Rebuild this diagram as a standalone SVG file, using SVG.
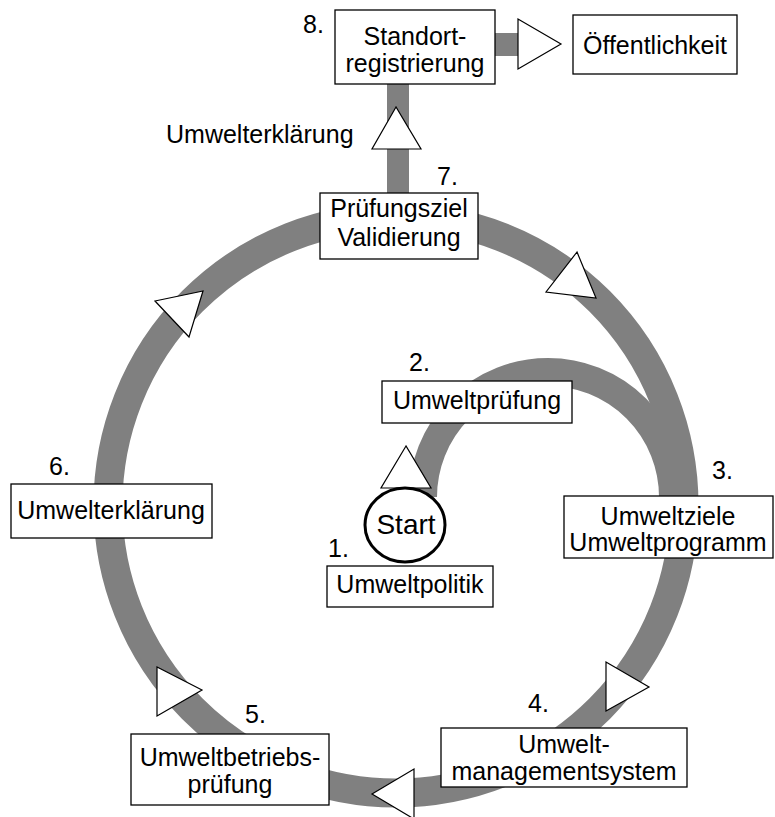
<svg xmlns="http://www.w3.org/2000/svg" width="775" height="817" viewBox="0 0 775 817">
<style>
  .band { fill: none; stroke: #808080; }
  .bar { fill: #808080; stroke: none; }
  .arrow { fill: #ffffff; stroke: #000000; stroke-width: 1.2; stroke-linejoin: miter; }
  .box { fill: #ffffff; stroke: #000000; stroke-width: 1.3; }
  text { font-family: "Liberation Sans", Arial, sans-serif; font-size: 25px; fill: #000000; }
  .c { text-anchor: middle; }
</style>
<rect width="775" height="817" fill="#ffffff"/>
<g id="connectors">
  <circle class="band" cx="396" cy="505" r="288" stroke-width="29"/>
  <path class="band" d="M 423 497 A 125 125 0 0 1 673 497" stroke-width="28"/>
  <rect class="bar" x="387" y="84" width="22" height="110"/>
  <rect class="bar" x="495" y="33" width="24" height="23"/>
  <polygon class="arrow" points="406,446 381,488 431,488"/>
  <polygon class="arrow" points="396,107 372,149 421,149"/>
  <polygon class="arrow" points="518,19 518,69 561,44"/>
  <polygon class="arrow" points="577,252 546,292 596,298"/>
  <polygon class="arrow" points="606,662 606,711 649,687"/>
  <polygon class="arrow" points="414,769 414,819 372,794"/>
  <polygon class="arrow" points="157,667 157,716 202,690"/>
  <polygon class="arrow" points="155,301 203,291 189,337"/>
  <text x="166" y="143">Umwelterklärung</text>
</g>
<g id="start">
  <ellipse cx="405" cy="525" rx="40" ry="37" fill="#ffffff" stroke="#000000" stroke-width="3"/>
  <text class="c" x="406" y="534" style="font-size:28px">Start</text>
</g>
<g id="node1">
  <text x="328" y="557">1.</text>
  <rect class="box" x="327" y="566" width="166" height="41"/>
  <text class="c" x="410" y="593">Umweltpolitik</text>
</g>
<g id="node2">
  <text x="409" y="371">2.</text>
  <rect class="box" x="382" y="381" width="190" height="42"/>
  <text class="c" x="477" y="409">Umweltprüfung</text>
</g>
<g id="node3">
  <text x="712" y="479">3.</text>
  <rect class="box" x="564" y="496" width="209" height="62"/>
  <text class="c" x="668" y="525">Umweltziele</text>
  <text class="c" x="668" y="551">Umweltprogramm</text>
</g>
<g id="node4">
  <text x="528" y="712">4.</text>
  <rect class="box" x="441" y="728" width="246" height="59"/>
  <text class="c" x="564" y="753">Umwelt-</text>
  <text class="c" x="564" y="780">managementsystem</text>
</g>
<g id="node5">
  <text x="245" y="723">5.</text>
  <rect class="box" x="131" y="734" width="198" height="71"/>
  <text class="c" x="230" y="766">Umweltbetriebs-</text>
  <text class="c" x="230" y="793">prüfung</text>
</g>
<g id="node6">
  <text x="49" y="475">6.</text>
  <rect class="box" x="11" y="484" width="201" height="54"/>
  <text class="c" x="111" y="519">Umwelterklärung</text>
</g>
<g id="node7">
  <text x="437" y="185">7.</text>
  <rect class="box" x="320" y="193" width="158" height="66"/>
  <text class="c" x="399" y="217">Prüfungsziel</text>
  <text class="c" x="399" y="246">Validierung</text>
</g>
<g id="node8">
  <text x="303" y="33">8.</text>
  <rect class="box" x="335" y="10" width="160" height="74"/>
  <text class="c" x="415" y="45">Standort-</text>
  <text class="c" x="415" y="72">registrierung</text>
</g>
<g id="node9">
  <rect class="box" x="573" y="15" width="164" height="59"/>
  <text class="c" x="655" y="54">Öffentlichkeit</text>
</g>
</svg>
